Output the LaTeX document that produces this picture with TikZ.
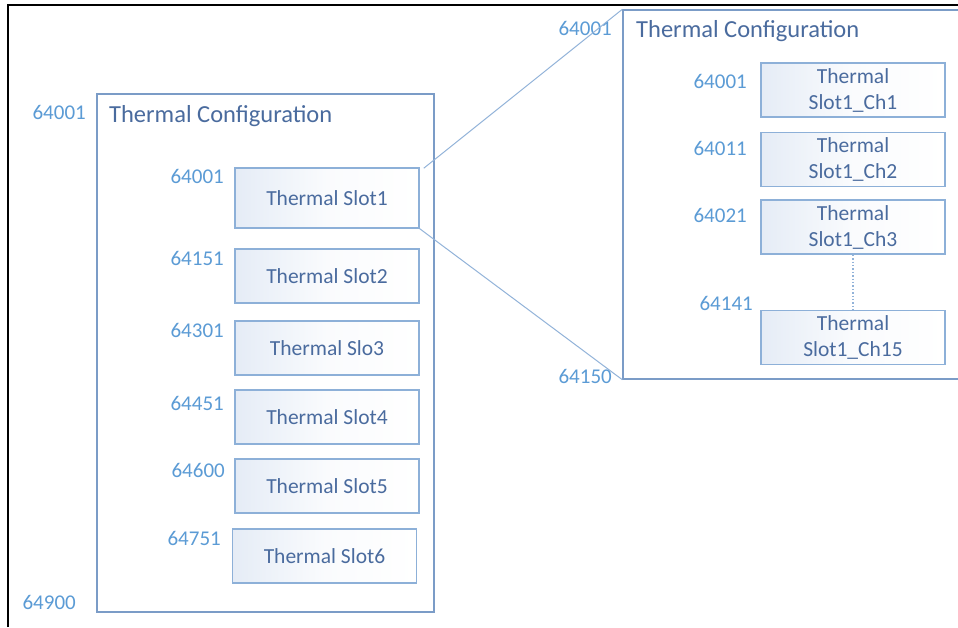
\documentclass[tikz,border=0pt]{standalone}
\usepackage{fontspec}
\setmainfont{Carlito}
\usetikzlibrary{calc}
\definecolor{frameblue}{HTML}{7B9CC7}
\definecolor{boxblue}{HTML}{8DB0D8}
\definecolor{lineblue}{HTML}{92B3D9}
\definecolor{labelblue}{HTML}{5B9BD5}
\definecolor{textblue}{HTML}{4A6B9E}
\definecolor{shadeblue}{HTML}{E5ECF6}
\tikzset{
  bigbox/.style={draw=frameblue, line width=1.4pt, fill=white, inner sep=0pt},
  slotbox/.style={draw=boxblue, line width=1.5pt, left color=shadeblue, right color=white, middle color=white!80!shadeblue,
    minimum width=184pt, minimum height=54pt, inner sep=0pt, text=textblue, font=\fontsize{21.5}{26}\selectfont, align=center},
  addr/.style={anchor=east, inner sep=0pt, text=labelblue, font=\fontsize{21}{26}\selectfont},
  title/.style={anchor=base west, inner sep=0pt, text=textblue, font=\fontsize{24.5}{28}\selectfont},
  zoomline/.style={draw=lineblue, line width=1pt},
}
\begin{document}
\begin{tikzpicture}[x=1pt,y=-1pt]
\useasboundingbox (0,0) rectangle (958,627);
\begin{scope}
\clip (0,0) rectangle (958,627);
\fill[white] (0,0) rectangle (958,627);
% outer frame
\draw[black, line width=1.6pt] (8,627) -- (8,5) -- (960,5);
% left configuration box
\node[bigbox, minimum width=337pt, minimum height=518pt] (lbox) at (265.5,353) {};
\node[title] (ltitle) at (109,122) {Thermal Configuration};
\node[addr] (la0) at (86,112) {64001};
\node[addr] (la9) at (76,602) {64900};
% slots
\node[slotbox, minimum height=60pt] (s1) at (327,198) {Thermal Slot1};
\node[slotbox] (s2) at (327,276) {Thermal Slot2};
\node[slotbox] (s3) at (327,348) {Thermal Slo3};
\node[slotbox] (s4) at (327,417) {Thermal Slot4};
\node[slotbox] (s5) at (327,486) {Thermal Slot5};
\node[slotbox] (s6) at (324.5,556) {Thermal Slot6};
\node[addr] (l1) at (224,176) {64001};
\node[addr] (l2) at (224,258) {64151};
\node[addr] (l3) at (224,330) {64301};
\node[addr] (l4) at (224,403) {64451};
\node[addr] (l5) at (225,470) {64600};
\node[addr] (l6) at (221,538) {64751};
% right configuration box (cut at the right edge)
\node[bigbox, minimum width=360pt, minimum height=369pt] (rbox) at (803,194.5) {};
\node[title] (rtitle) at (636,37) {Thermal Configuration};
\node[addr] (ra0) at (612,28) {64001};
\node[addr] (ra9) at (612,376) {64150};
\node[slotbox] (c1) at (853,90) {Thermal\\Slot1\_Ch1};
\node[slotbox] (c2) at (853,159.5) {Thermal\\Slot1\_Ch2};
\node[slotbox] (c3) at (853,227) {Thermal\\Slot1\_Ch3};
\node[slotbox] (c15) at (853,337.5) {Thermal\\Slot1\_Ch15};
\node[addr] (r1) at (747,81) {64001};
\node[addr] (r2) at (747,148) {64011};
\node[addr] (r3) at (747,215) {64021};
\node[addr] (r4) at (753,303) {64141};
\draw[lineblue, line width=1.4pt, dotted] (c3.south) -- (c15.north);
% zoom connectors
\draw[zoomline] ($(s1.north east)+(4,1)$) -- (rbox.north west);
\draw[zoomline] (s1.south east) -- (rbox.south west);
\end{scope}
\end{tikzpicture}
\end{document}
